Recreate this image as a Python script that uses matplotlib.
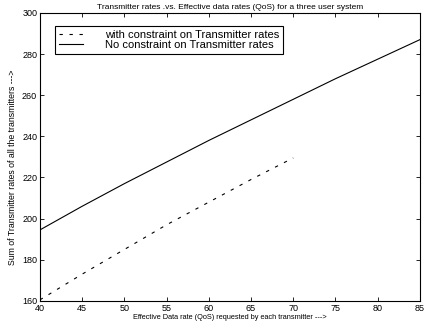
import matplotlib
matplotlib.use("Agg")
import matplotlib.pyplot as plt

plt.rcParams['font.family'] = ['Liberation Sans', 'DejaVu Sans']

# data
qos_with = [40, 45, 50, 55, 60, 65, 70]
rates_with = [160.5, 173, 185, 197, 208, 219, 229.5]
qos_no = [40, 45, 50, 55, 60, 65, 70, 75, 80, 85]
rates_no = [194.5, 206, 217, 227.5, 238, 248, 258, 268, 277.5, 287]
xticks = [40, 45, 50, 55, 60, 65, 70, 75, 80, 85]
yticks = [160, 180, 200, 220, 240, 260, 280, 300]

fig = plt.figure(figsize=(4.25, 3.31), dpi=100)
ax = fig.add_axes([0.094, 0.091, 0.894, 0.870])

ax.plot(qos_with, rates_with, color="black", linewidth=0.8,
        linestyle=(0, (3, 6)), label="with constraint on Transmitter rates")
ax.plot(qos_no, rates_no, color="black", linewidth=0.8,
        label="No constraint on Transmitter rates")

ax.set_xlim(40, 85)
ax.set_ylim(160, 300)
ax.set_xticks(xticks)
ax.set_yticks(yticks)
ax.tick_params(direction="in", length=3, width=0.6, labelsize=6.5,
               top=True, right=True, pad=2)
for s in ax.spines.values():
    s.set_linewidth(0.8)

ax.set_title("Transmitter rates .vs. Effective data rates (QoS) for a three user system",
             fontsize=6, pad=3)
ax.set_xlabel("Effective Data rate (QoS) requested by each transmitter --->",
              fontsize=5.3, labelpad=1)
ax.set_ylabel("Sum of Transmitter rates of all the transmitters --->",
              fontsize=6.3)
ax.yaxis.set_label_coords(-0.06, 0.465)

leg = ax.legend(loc="upper left", bbox_to_anchor=(0.039, 0.955), borderaxespad=0,
                fontsize=8, handlelength=2.2, handletextpad=2.0, fancybox=False,
                framealpha=1, edgecolor="black", borderpad=0.35, labelspacing=0)
leg.get_frame().set_linewidth(0.8)

fig.savefig("out.png", dpi=100)
